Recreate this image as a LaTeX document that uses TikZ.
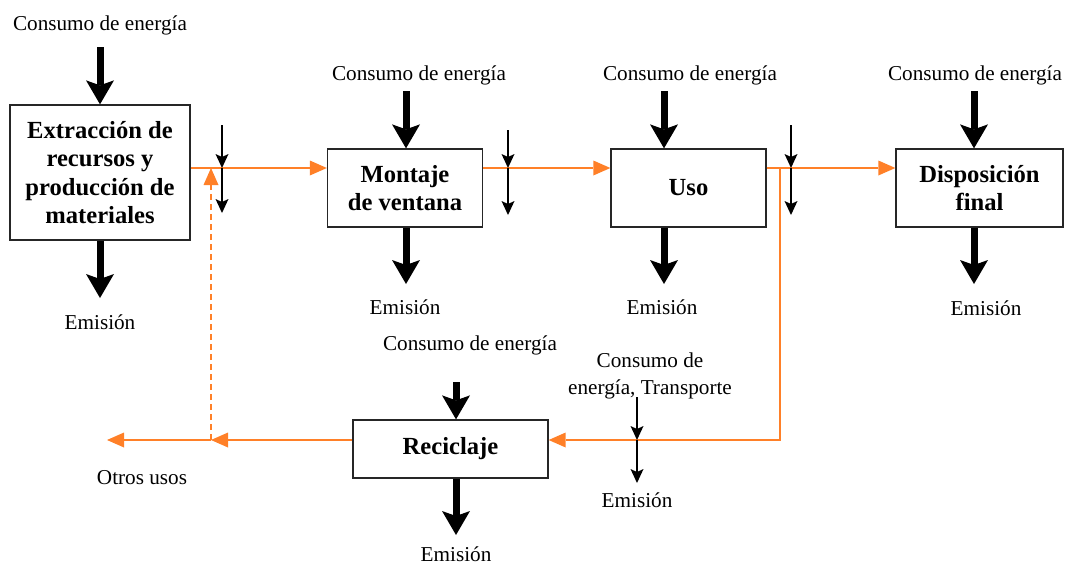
\documentclass[tikz,border=0pt]{standalone}
\usepackage{fontspec}
\setmainfont{Liberation Serif}
\usetikzlibrary{arrows.meta}
\definecolor{flow}{RGB}{255,128,40}
\begin{document}
\begin{tikzpicture}[x=1pt,y=-1pt,
  box/.style={draw=black!85, line width=1.3pt, inner sep=0pt, align=center, font=\fontsize{24.6}{28.3}\selectfont\bfseries},
  lbl/.style={inner sep=0pt, align=center, font=\fontsize{21.2}{27}\selectfont},
  bigarrow/.style={line width=7pt, -{Stealth[length=24pt,width=28pt,inset=5pt,line width=0pt]}},
  smallarrow/.style={line width=1.8pt, -{Stealth[length=14pt,width=13pt,inset=3pt,line width=0pt]}},
  flowline/.style={draw=flow, line width=1.8pt},
  flowarrow/.style={flowline, -{Triangle[length=17pt,width=15pt,line width=0pt]}},
  dashflow/.style={flowarrow, dash pattern=on 6pt off 4pt},
]
\useasboundingbox (0,0) rectangle (1065,565);
\coordinate (L) at (0,168);
\coordinate (R) at (0,440);

% boxes
\node[box, minimum width=180pt, minimum height=135pt] (ext) at (100,172.5) {Extracción de\\recursos y\\producción de\\materiales};
\node[box, minimum width=155pt, minimum height=78pt] (mon) at (405,188) {Montaje\\de ventana};
\node[box, minimum width=155pt, minimum height=78pt] (uso) at (688.5,188) {Uso};
\node[box, minimum width=167pt, minimum height=78pt] (dis) at (979.5,188) {Disposición\\final};
\node[box, minimum width=195pt, minimum height=58pt] (rec) at (450.5,449) {Reciclaje};

% labels
\node[lbl] (c1) at (100,25) {Consumo de energía};
\node[lbl] (c2) at (419,75) {Consumo de energía};
\node[lbl] (c3) at (690,75) {Consumo de energía};
\node[lbl] (c4) at (975,75) {Consumo de energía};
\node[lbl] (c5) at (470,345) {Consumo de energía};
\node[lbl] (c6) at (650,376) {Consumo de\\energía, Transporte};
\node[lbl] (m1) at (100,322) {Emisión};
\node[lbl] (m2) at (405,307) {Emisión};
\node[lbl] (m3) at (662,307) {Emisión};
\node[lbl] (m4) at (986,308) {Emisión};
\node[lbl] (m5) at (456,554) {Emisión};
\node[lbl] (m6) at (637,500) {Emisión};
\node[lbl] (ou) at (142,478) {Otros usos};

% orange flows
\coordinate (k) at (780,0);
\coordinate (d) at (211,0);
\coordinate (o) at (107,0);
\draw[flowarrow] (ext.east |- L) -- (mon.west |- L);
\draw[flowarrow] (mon.east |- L) -- (uso.west |- L);
\draw[flowarrow] (uso.east |- L) -- (dis.west |- L);
\draw[flowarrow] (uso.east |- L) -| (k |- R) -- (rec.east |- R);
\draw[flowarrow] (rec.west |- R) -- (d |- R);
\draw[flowarrow] (d |- R) -- (o |- R);
\draw[dashflow] (d |- R) -- (d |- L);

% big arrows
\coordinate (a1) at (100,47);
\coordinate (a2) at (406,91);
\coordinate (a3) at (664,91);
\coordinate (a4) at (974,91);
\coordinate (a5) at (456,382);
\draw[bigarrow] (a1) -- (a1 |- ext.north);
\draw[bigarrow] (a2) -- (a2 |- mon.north);
\draw[bigarrow] (a3) -- (a3 |- uso.north);
\draw[bigarrow] (a4) -- (a4 |- dis.north);
\draw[bigarrow] (a5) -- (a5 |- rec.north);
\coordinate (e1) at (100,298);
\coordinate (e2) at (406,284);
\coordinate (e3) at (664,284);
\coordinate (e4) at (974,284);
\coordinate (e5) at (456,535);
\draw[bigarrow] (e1 |- ext.south) -- (e1);
\draw[bigarrow] (e2 |- mon.south) -- (e2);
\draw[bigarrow] (e3 |- uso.south) -- (e3);
\draw[bigarrow] (e4 |- dis.south) -- (e4);
\draw[bigarrow] (e5 |- rec.south) -- (e5);

% small arrows
\coordinate (s1) at (222,125); \coordinate (t1) at (222,213);
\coordinate (s2) at (508,130); \coordinate (t2) at (508,215);
\coordinate (s3) at (791,125); \coordinate (t3) at (791,215);
\coordinate (s4) at (637,397); \coordinate (t4) at (637,483);
\draw[smallarrow] (s1) -- (s1 |- L); \draw[smallarrow] (s1 |- L) -- (t1);
\draw[smallarrow] (s2) -- (s2 |- L); \draw[smallarrow] (s2 |- L) -- (t2);
\draw[smallarrow] (s3) -- (s3 |- L); \draw[smallarrow] (s3 |- L) -- (t3);
\draw[smallarrow] (s4) -- (s4 |- R); \draw[smallarrow] (s4 |- R) -- (t4);
\end{tikzpicture}
\end{document}
